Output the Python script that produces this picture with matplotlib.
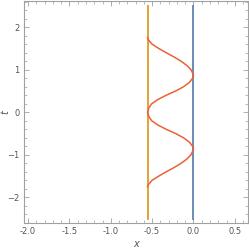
import matplotlib
matplotlib.use("Agg")
import matplotlib.pyplot as plt
import numpy as np
from matplotlib.ticker import MultipleLocator

# curve samples, t >= 0 (mirrored for t < 0)
t_half = [0.0, 0.1, 0.2, 0.3, 0.4, 0.5, 0.6, 0.7, 0.8, 0.85,
          0.9, 1.0, 1.1, 1.2, 1.3, 1.4, 1.5, 1.6, 1.7, 1.75]
x_half = [-0.555, -0.54, -0.505, -0.43, -0.33, -0.215, -0.12, -0.05, -0.01, 0.0,
          -0.005, -0.03, -0.08, -0.15, -0.235, -0.33, -0.42, -0.5, -0.545, -0.555]

left_x = -0.555
right_x = 0.0
t_span = [-2.5, 2.5]

t_curve = [-v for v in t_half[::-1]] + t_half[1:]
x_curve = x_half[::-1] + x_half[1:]

fig = plt.figure(figsize=(2.49, 2.49), dpi=100)
ax = fig.add_axes([24 / 249, (249 - 223.3) / 249, 224 / 249, 222.5 / 249])

ax.plot([left_x, left_x], t_span, color="#E19C24", lw=1.3, zorder=2)
ax.plot([right_x, right_x], t_span, color="#5E81B5", lw=1.3, zorder=2)
ax.plot(x_curve, t_curve, color="#EB6235", lw=1.1, zorder=3)

ax.set_xlim(-2.05, 0.66)
ax.set_ylim(-2.61, 2.62)

ax.xaxis.set_major_locator(MultipleLocator(0.5))
ax.xaxis.set_minor_locator(MultipleLocator(0.1))
ax.yaxis.set_major_locator(MultipleLocator(1))
ax.yaxis.set_minor_locator(MultipleLocator(0.2))
ax.xaxis.set_major_formatter(plt.FuncFormatter(lambda v, p: "%.1f" % v))

for s in ax.spines.values():
    s.set_color("#a0a0a0")
    s.set_linewidth(0.8)
ax.tick_params(which="both", direction="in", top=True, right=True,
               color="#a0a0a0", labelsize=6, labelcolor="#555555", pad=3)
ax.tick_params(which="major", length=3.5, width=0.6)
ax.tick_params(which="minor", length=2, width=0.5)

ax.set_xlabel("x", fontsize=7, style="italic", color="#555555", labelpad=2)
ax.set_ylabel("t", fontsize=7, style="italic", color="#555555")
ax.yaxis.set_label_coords(-0.06, 0.5)

fig.savefig("out.png", dpi=100)
